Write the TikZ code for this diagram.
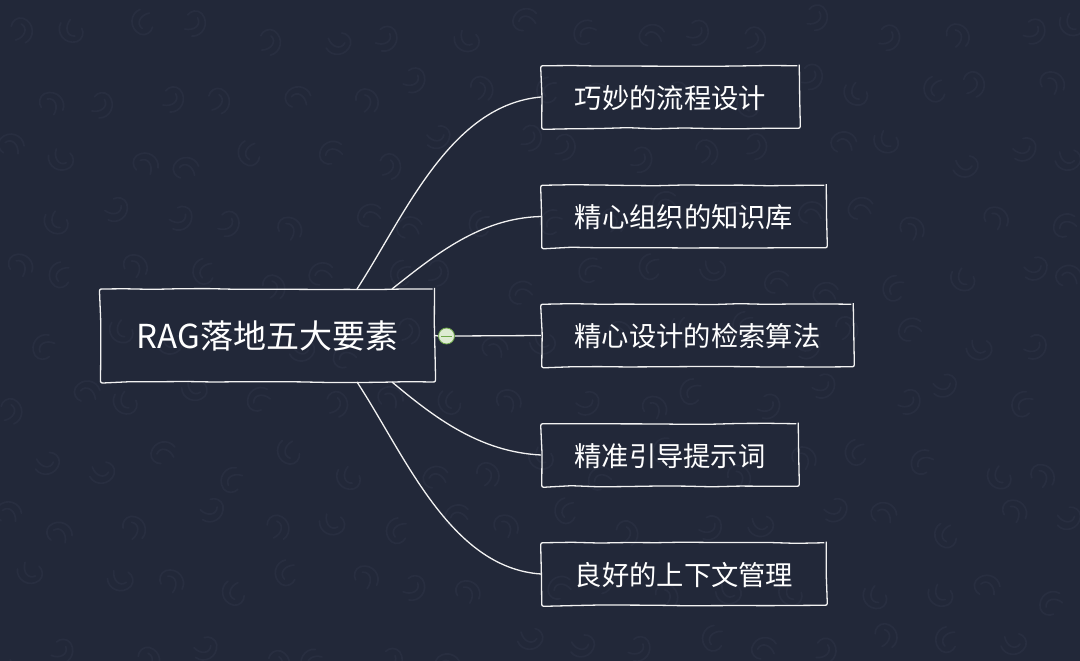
\documentclass[tikz,border=0pt]{standalone}
\usepackage{fontspec}
\setmainfont{Noto Sans CJK SC}
\usetikzlibrary{decorations.pathmorphing}
\definecolor{bgcol}{HTML}{222839}
\definecolor{markcol}{HTML}{282E40}
\definecolor{linecol}{HTML}{F2F2F2}
\definecolor{btngreen}{HTML}{6FA84A}
\definecolor{btnfill}{HTML}{DDEBD2}
\tikzstyle{sketch}=[draw=linecol,line width=1.3pt,rounded corners=2pt,decorate,decoration={random steps,segment length=28pt,amplitude=0.6pt}]
\tikzstyle{mainbox}=[sketch,text=white,font=\fontsize{33}{33}\selectfont,inner sep=0pt,minimum width=334pt,minimum height=93pt]
\tikzstyle{subbox}=[sketch,text=white,font=\fontsize{27.3}{27.3}\selectfont,inner sep=0pt,minimum height=62.5pt]
\tikzstyle{edge}=[draw=linecol,line width=1.3pt]
\tikzstyle{swirl}=[draw=markcol,line width=1.7pt,line cap=round]
\begin{document}
\begin{tikzpicture}[x=1pt,y=-1pt]
	\fill[bgcol] (0,0) rectangle (1080,661);
	\useasboundingbox (0,0) rectangle (1080,661);
	\clip (0,0) rectangle (1080,661);
	% faint background marks
	\pgfmathsetseed{11}
	\foreach \row in {0,...,10}
	\foreach \col in {0,...,17}{
		\pgfmathsetmacro{\px}{\col*63+mod(\row,2)*30+rand*16+12}
		\pgfmathsetmacro{\py}{\row*62+rand*16+30}
		\pgfmathsetmacro{\rot}{rand*180}
		\begin{scope}[shift={(\px,\py)},rotate=\rot]
			\draw[swirl] (-11,6) .. controls (-4,14) and (11,10) .. (12,-3) .. controls (12,-9) and (6,-13) .. (1,-12);
			\draw[swirl] (-11,-4) .. controls (-6,4) and (4,5) .. (6,-3);
		\end{scope}
	}
	
	\node[mainbox] (root) at (267.5,335.5) {\raisebox{-12.5pt}[0pt][0pt]{RAG落地五大要素}};
	
	\foreach \pos/\name/\wid/\txt in {{(670.5,97)/b1/257.5/巧妙的流程设计},{(684,216.5)/b2/284.5/精心组织的知识库},{(697.5,335.5)/b3/311.5/精心设计的检索算法},{(670,455)/b4/256.5/精准引导提示词},{(684,574)/b5/284.5/良好的上下文管理}}
	\node[subbox,minimum width=\wid pt] (\name) at \pos {\raisebox{-11pt}[0pt][0pt]{\txt}};
	
	\path (357,289) coordinate (t1);
	\path (392,289) coordinate (t2);
	\path (392,382) coordinate (t4);
	\path (357,382) coordinate (t5);
	\draw[edge] (t1) .. controls (405,215) and (450,105) .. (b1.west);
	\draw[edge] (t2) .. controls (435,255) and (480,218) .. (b2.west);
	\draw[edge] (t4) .. controls (435,418) and (480,452) .. (b4.west);
	\draw[edge] (t5) .. controls (405,455) and (450,568) .. (b5.west);
	
	\node[circle,draw=btngreen,fill=btnfill,line width=0.8pt,minimum size=16pt,inner sep=0pt] (btn) at (446.5,336) {};
	\draw[edge] (root.east) -- (btn.west);
	\draw[edge] (btn.east) -- (b3.west);
	\draw[btngreen,line width=1pt] (441,336) -- (452,336);
\end{tikzpicture}
\end{document}
